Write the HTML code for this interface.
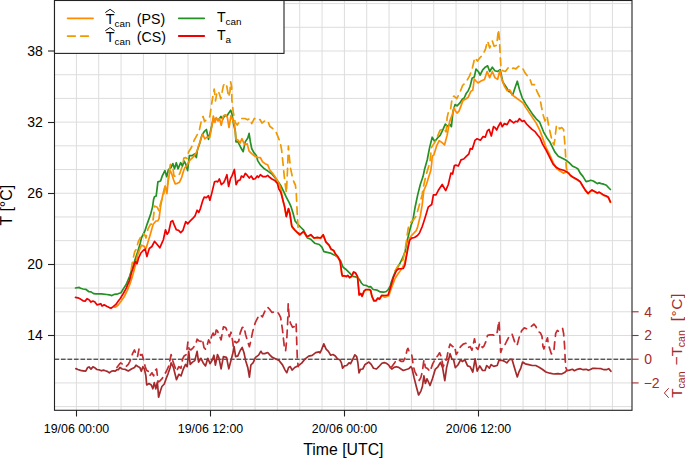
<!DOCTYPE html>
<html><head><meta charset="utf-8"><style>
html,body{margin:0;padding:0;background:#fff;}
svg{display:block;font-family:"Liberation Sans", sans-serif;}
</style></head><body>
<svg width="685" height="458" viewBox="0 0 685 458">
<path d="M76.40,0.5 V410.3 M98.73,0.5 V410.3 M121.07,0.5 V410.3 M143.40,0.5 V410.3 M165.73,0.5 V410.3 M188.07,0.5 V410.3 M210.40,0.5 V410.3 M232.73,0.5 V410.3 M255.07,0.5 V410.3 M277.40,0.5 V410.3 M299.73,0.5 V410.3 M322.07,0.5 V410.3 M344.40,0.5 V410.3 M366.73,0.5 V410.3 M389.07,0.5 V410.3 M411.40,0.5 V410.3 M433.73,0.5 V410.3 M456.07,0.5 V410.3 M478.40,0.5 V410.3 M500.73,0.5 V410.3 M523.07,0.5 V410.3 M545.40,0.5 V410.3 M567.73,0.5 V410.3 M590.07,0.5 V410.3 M612.40,0.5 V410.3 M54.5,406.62 H632.0 M54.5,382.92 H632.0 M54.5,359.21 H632.0 M54.5,335.50 H632.0 M54.5,311.79 H632.0 M54.5,288.08 H632.0 M54.5,264.38 H632.0 M54.5,240.67 H632.0 M54.5,216.96 H632.0 M54.5,193.25 H632.0 M54.5,169.54 H632.0 M54.5,145.84 H632.0 M54.5,122.13 H632.0 M54.5,98.42 H632.0 M54.5,74.71 H632.0 M54.5,51.00 H632.0 M54.5,27.30 H632.0 M54.5,3.59 H632.0" stroke="#DDDDDD" stroke-width="1" fill="none"/>
<path d="M54.5,359.21 H632.0" stroke="#1a1a1a" stroke-width="1" stroke-dasharray="4.6,1.9" fill="none"/>
<path d="M75.5,288.0 L79.2,287.3 L80.5,288.3 L83.1,289.0 L85.7,289.3 L89.0,291.7 L91.0,291.9 L93.6,293.6 L96.2,293.9 L101.4,293.9 L106.7,294.5 L109.3,294.8 L111.9,295.6 L114.5,294.3 L118.0,293.8 L121.0,292.7 L123.3,288.9 L126.3,284.3 L129.4,276.7 L132.5,267.5 L135.5,258.3 L137.8,251.5 L140.1,243.8 L141.4,238.0 L144.7,231.4 L147.3,223.6 L150.6,214.4 L152.6,206.6 L153.6,199.4 L154.5,196.8 L156.2,195.9 L157.9,181.9 L160.6,181.0 L162.3,175.8 L164.9,170.6 L166.7,176.7 L168.4,169.7 L171.0,167.6 L172.8,163.6 L174.5,168.8 L176.3,162.7 L178.0,168.8 L180.7,162.7 L182.4,166.2 L184.1,161.0 L185.9,164.5 L187.6,170.6 L189.4,155.7 L192.0,155.7 L194.6,154.0 L196.4,157.5 L197.4,150.0 L199.6,143.7 L202.0,134.9 L204.2,131.7 L206.4,129.5 L208.5,139.3 L210.4,131.5 L212.9,121.0 L215.6,118.5 L218.3,120.0 L220.9,116.4 L222.8,119.0 L224.8,115.4 L227.0,116.2 L228.6,113.2 L230.7,110.2 L232.0,114.0 L233.4,123.2 L235.3,131.0 L236.0,141.9 L238.0,141.9 L240.6,147.2 L243.2,151.7 L245.2,141.9 L247.8,138.0 L249.1,133.4 L250.4,141.9 L251.7,148.5 L253.7,152.4 L256.3,155.5 L257.8,160.9 L260.4,164.9 L264.4,168.8 L268.3,171.4 L272.3,174.4 L276.5,179.5 L278.8,182.6 L280.7,185.5 L284.0,192.1 L286.0,196.7 L289.2,202.6 L291.2,207.2 L293.2,213.7 L295.1,221.0 L298.3,224.9 L301.0,227.5 L303.6,230.1 L307.5,238.0 L310.8,239.3 L314.7,243.2 L319.3,244.5 L321.9,247.2 L323.9,251.7 L327.2,252.4 L330.4,253.1 L333.1,254.4 L335.5,255.5 L337.9,257.4 L340.5,260.7 L343.1,267.3 L345.7,269.2 L349.7,273.2 L352.9,276.4 L356.9,277.1 L359.5,279.7 L361.4,283.0 L363.4,285.0 L366.7,285.6 L368.6,286.9 L370.6,286.7 L373.2,289.5 L377.2,290.2 L380.4,291.9 L383.7,292.2 L386.3,291.5 L388.3,289.5 L390.3,286.0 L391.3,282.0 L394.2,274.3 L397.2,268.0 L399.9,263.5 L402.5,258.2 L405.1,251.7 L407.1,241.2 L409.0,233.3 L411.0,225.5 L412.9,220.2 L415.1,207.2 L417.7,194.9 L420.3,184.5 L423.0,176.6 L424.7,168.7 L427.2,160.0 L429.6,147.6 L432.2,137.2 L434.8,141.5 L437.5,138.0 L440.1,135.4 L442.7,130.2 L445.3,124.1 L447.9,126.7 L449.7,124.1 L451.4,126.7 L452.3,117.9 L453.1,111.1 L455.1,104.5 L457.0,105.9 L459.7,103.2 L462.3,99.3 L464.2,98.0 L466.2,93.4 L468.2,90.8 L470.1,86.2 L472.1,78.3 L474.3,77.0 L476.0,69.2 L478.3,71.5 L480.1,75.0 L482.7,69.8 L485.3,67.2 L487.6,65.8 L489.7,71.5 L492.3,67.2 L494.9,70.7 L497.6,71.5 L500.2,69.8 L502.8,82.0 L506.3,87.2 L508.9,91.6 L510.5,92.0 L512.6,95.2 L515.2,87.3 L517.3,81.2 L519.6,89.9 L522.2,97.8 L525.7,103.9 L529.2,109.1 L532.7,114.4 L536.2,118.8 L539.7,122.2 L543.5,131.8 L547.0,137.9 L549.6,141.4 L552.2,146.7 L554.8,151.9 L558.3,156.3 L561.8,158.0 L565.3,159.8 L568.8,162.4 L572.3,165.9 L575.5,167.4 L578.0,169.0 L580.2,173.1 L582.9,176.4 L586.1,181.6 L588.1,181.2 L590.7,180.3 L593.3,181.0 L595.3,182.3 L597.3,183.6 L599.2,182.9 L601.2,183.6 L603.8,184.2 L606.4,185.2 L608.4,187.5 L610.4,189.5" stroke="#259025" stroke-width="1.7" fill="none" stroke-linejoin="round" stroke-linecap="round"/>
<path d="M114.2,307.2 L115.1,307.2 L118.2,305.0 L121.2,301.1 L124.3,296.5 L127.3,290.4 L130.4,282.8 L132.7,275.2 L135.0,266.7 L136.5,261.4 L137.5,255.5 L139.5,250.0 L141.4,245.2 L143.9,246.1 L144.7,247.2 L146.2,248.0 L148.0,241.9 L150.0,235.4 L151.9,228.8 L153.2,224.2 L155.9,221.0 L157.8,221.0 L159.1,218.3 L160.4,207.9 L161.7,200.0 L163.6,191.5 L165.3,186.0 L166.9,193.7 L168.0,182.8 L169.1,175.1 L170.2,170.7 L171.8,174.0 L173.5,179.5 L175.1,183.8 L177.3,183.3 L179.5,182.2 L181.7,177.3 L183.3,171.8 L184.9,167.5 L186.6,166.4 L187.7,164.2 L189.3,160.9 L191.5,158.7 L193.7,156.6 L195.9,153.3 L197.5,150.0 L198.2,146.9 L200.4,140.4 L202.6,134.0 L204.8,138.8 L206.9,137.1 L209.8,137.2 L211.5,128.0 L213.3,116.0 L214.9,122.4 L216.3,117.5 L218.0,121.0 L219.5,118.5 L221.2,125.3 L223.5,115.8 L225.8,114.8 L227.3,117.2 L229.0,127.5 L231.0,115.5 L232.7,119.7 L234.6,125.3 L236.0,139.3 L238.0,140.0 L240.0,143.2 L241.9,138.6 L244.5,144.5 L247.2,143.9 L249.1,151.1 L251.7,153.7 L255.0,156.3 L257.7,157.5 L260.4,157.6 L262.4,161.6 L265.0,163.7 L267.6,164.7 L269.8,170.0 L272.6,173.2 L275.2,177.0 L277.8,181.4 L280.1,186.5 L281.4,191.4 L282.7,199.7 L284.6,207.0 L286.3,216.8 L288.5,208.9 L289.8,213.5 L291.8,226.6 L294.4,229.9 L297.0,232.5 L299.7,235.1 L303.6,231.8 L306.9,237.1 L310.8,235.1 L314.1,238.4 L317.3,237.7 L320.6,238.4 L323.2,235.1 L325.9,242.3 L329.1,245.6 L331.1,249.5 L333.7,250.8 L335.2,253.9 L337.9,257.2 L340.2,261.8 L341.8,274.2 L342.4,276.2 L344.4,276.2 L346.4,276.8 L347.7,275.8 L349.7,277.9 L351.6,276.6 L353.6,272.3 L355.5,273.2 L357.5,276.8 L358.6,288.6 L359.1,295.2 L360.8,293.9 L362.1,296.5 L364.1,291.3 L366.0,289.9 L369.3,289.9 L370.6,290.6 L371.9,296.5 L373.9,301.1 L375.9,301.1 L377.8,298.5 L379.5,299.4 L381.7,295.8 L385.0,297.2 L388.8,295.7 L391.9,286.6 L394.9,278.9 L397.2,275.0 L399.9,271.3 L402.5,267.4 L404.4,263.5 L406.4,255.6 L407.7,247.8 L409.7,237.9 L411.7,235.3 L414.3,232.7 L416.2,230.7 L417.5,227.4 L418.9,221.6 L420.3,216.0 L422.1,205.4 L423.8,190.6 L426.4,184.5 L429.1,175.7 L430.8,170.5 L431.7,163.5 L432.2,156.4 L434.0,154.6 L436.6,145.9 L439.2,140.7 L441.8,142.4 L444.5,145.0 L447.1,135.4 L449.7,121.4 L452.3,114.5 L454.1,107.5 L455.1,110.4 L457.0,113.1 L459.0,111.1 L461.0,105.9 L462.9,100.6 L465.5,99.3 L468.2,97.3 L470.8,91.4 L472.8,90.1 L474.3,79.0 L476.0,81.0 L478.0,82.9 L481.0,81.1 L484.5,79.4 L487.1,71.5 L489.7,77.6 L492.3,71.5 L494.9,77.6 L497.6,79.4 L499.8,70.7 L501.9,79.4 L504.5,86.4 L507.2,90.7 L509.8,89.9 L512.4,95.1 L516.1,97.8 L519.6,100.4 L523.1,103.0 L525.7,107.4 L529.2,112.6 L532.7,117.9 L536.2,123.1 L539.7,130.1 L542.6,137.9 L546.1,147.6 L549.6,154.5 L553.1,162.4 L556.6,168.5 L560.1,171.1 L563.6,173.2 L566.2,172.0 L568.8,172.9 L570.6,175.9 L573.2,177.6 L575.5,178.9 L577.6,180.1 L580.2,182.0 L582.9,186.6 L585.5,190.8 L588.1,193.8 L590.1,191.8 L592.0,190.3 L594.7,191.8 L597.3,193.4 L599.2,192.5 L601.2,193.8 L603.8,195.5 L606.4,196.4 L608.4,197.7 L610.4,202.3" stroke="#FF8C00" stroke-width="1.7" fill="none" stroke-linejoin="round" stroke-linecap="round"/>
<path d="M129.4,282.8 L131.7,266.0 L133.2,258.3 L134.7,251.7 L136.3,249.2 L138.2,241.9 L140.1,238.0 L142.8,233.4 L144.7,234.7 L146.0,238.0 L148.0,228.8 L150.6,224.2 L152.6,224.2 L153.9,213.1 L154.5,206.0 L157.2,207.2 L159.1,211.1 L160.4,203.9 L161.7,200.0 L163.6,196.0 L164.4,189.0 L165.3,185.0 L166.4,186.5 L167.5,185.0 L169.4,170.0 L170.4,164.4 L171.5,166.5 L172.9,168.0 L174.0,176.0 L176.2,176.5 L178.4,176.0 L180.0,173.0 L181.3,169.0 L182.8,165.3 L183.8,158.0 L185.5,157.6 L187.1,158.5 L188.6,152.0 L191.4,147.5 L194.4,139.8 L197.1,134.9 L199.5,129.5 L201.8,118.5 L203.1,116.4 L204.6,121.5 L207.0,119.0 L209.4,118.0 L210.2,114.2 L211.6,104.1 L212.9,96.2 L214.2,89.0 L215.5,100.8 L216.9,92.9 L218.2,91.0 L219.5,94.2 L220.8,98.8 L222.1,92.3 L223.4,85.7 L224.7,83.1 L226.7,85.7 L228.6,96.9 L230.0,91.6 L230.6,81.8 L231.7,87.0 L231.9,100.1 L233.2,111.9 L235.2,122.4 L237.2,125.0 L239.8,121.1 L241.7,118.5 L245.0,118.5 L247.6,119.8 L250.0,118.5 L251.7,123.6 L254.4,118.3 L257.0,120.3 L260.0,119.5 L262.0,123.1 L265.2,120.5 L267.9,121.1 L269.8,126.4 L272.4,128.3 L275.7,131.0 L278.3,137.5 L280.3,142.8 L281.6,149.9 L282.4,157.5 L283.2,165.2 L283.9,172.8 L284.7,180.4 L285.5,186.5 L286.4,193.0 L287.5,170.0 L288.4,146.0 L289.2,156.0 L290.5,168.0 L292.3,176.6 L293.9,182.0 L295.4,185.0 L296.2,192.0 L296.6,200.0 L297.3,215.0 L298.3,231.4 L299.7,235.0" stroke="#EE9A00" stroke-width="1.7" fill="none" stroke-linejoin="round" stroke-linecap="round" stroke-dasharray="7.6,5.5"/>
<path d="M395.0,271.0 L397.9,266.1 L400.5,264.1 L403.1,259.5 L405.1,249.7 L406.4,241.2 L407.1,235.3 L408.4,227.4 L411.0,222.2 L413.6,219.6 L415.6,217.0 L417.7,210.7 L420.3,201.9 L422.1,194.9 L423.0,188.8 L424.7,181.0 L426.4,174.0 L428.2,167.9 L429.9,162.6 L431.4,147.6 L434.8,142.4 L437.5,136.3 L440.1,130.2 L443.6,128.4 L446.2,131.9 L447.1,117.9 L448.8,110.1 L450.6,109.2 L452.3,97.0 L454.1,96.1 L456.7,98.7 L460.2,91.7 L462.6,85.5 L466.1,82.0 L469.6,75.9 L472.2,68.9 L474.8,57.6 L477.5,61.0 L480.1,57.6 L482.7,54.9 L485.3,49.7 L487.6,41.0 L489.7,47.9 L492.3,41.0 L494.1,46.2 L496.7,45.3 L498.4,29.6 L499.3,37.5 L500.2,54.9 L501.0,68.9 L502.8,70.7 L505.4,71.5 L508.0,68.0 L510.7,69.8 L513.3,68.0 L515.9,68.9 L518.5,66.3 L522.2,67.2 L524.8,72.5 L527.5,76.0 L530.1,79.5 L531.8,84.7 L534.5,84.7 L537.1,91.7 L539.7,96.9 L541.5,107.0 L543.3,115.5 L545.0,121.0 L547.0,116.1 L548.6,125.3 L550.4,133.5 L552.2,141.4 L554.0,144.9 L554.8,139.7 L556.4,126.0 L557.5,124.9 L559.5,128.8 L561.7,127.5 L563.6,129.5 L564.5,139.7 L565.3,150.2 L565.9,160.7 L566.3,168.0 L568.0,172.5" stroke="#EE9A00" stroke-width="1.7" fill="none" stroke-linejoin="round" stroke-linecap="round" stroke-dasharray="7.6,5.5"/>
<path d="M75.5,297.4 L77.9,297.8 L80.5,299.1 L83.1,300.8 L85.1,301.1 L87.0,298.7 L89.0,299.8 L91.0,302.1 L92.9,301.1 L94.9,302.1 L96.9,304.8 L98.8,304.4 L100.8,303.7 L102.1,306.1 L104.1,304.8 L106.7,306.3 L109.3,307.6 L111.0,308.2 L113.2,306.6 L115.9,304.4 L118.5,300.8 L120.3,298.5 L123.3,293.5 L126.3,288.1 L129.4,280.5 L131.7,272.1 L134.0,265.2 L135.5,261.4 L137.0,263.7 L138.6,258.0 L140.9,253.0 L143.2,250.5 L145.2,249.0 L146.9,256.5 L149.3,248.5 L151.9,246.5 L154.5,241.3 L157.2,244.5 L159.8,247.8 L162.4,241.9 L163.3,240.0 L165.5,229.8 L167.1,234.2 L168.7,232.0 L170.9,221.7 L172.6,220.6 L174.2,224.9 L176.4,229.8 L178.6,230.4 L180.7,232.6 L182.9,230.4 L185.7,221.7 L187.8,223.8 L190.0,221.1 L192.8,218.4 L194.9,216.2 L197.1,210.2 L198.8,212.4 L200.4,208.6 L202.6,200.9 L204.2,197.1 L206.4,197.6 L208.5,195.7 L209.9,200.3 L211.8,193.1 L214.5,181.9 L216.4,181.3 L217.7,181.9 L219.4,178.9 L221.3,184.6 L223.7,182.6 L225.2,179.3 L226.9,174.7 L228.6,186.5 L230.5,178.7 L232.2,175.4 L234.4,169.5 L236.1,184.6 L238.1,180.6 L240.1,180.0 L241.4,176.0 L243.4,177.3 L245.3,173.4 L247.3,175.4 L249.3,178.0 L251.2,176.0 L253.2,179.3 L255.2,178.7 L257.2,176.0 L258.5,177.3 L260.4,174.7 L263.1,176.7 L265.7,176.7 L267.7,175.4 L269.6,177.3 L272.3,179.3 L274.9,180.6 L277.4,183.4 L278.8,188.8 L280.7,192.1 L282.7,199.3 L284.6,206.6 L286.3,216.4 L288.5,208.5 L289.8,213.1 L291.8,226.2 L294.4,229.5 L297.0,232.1 L299.7,234.7 L303.6,231.4 L306.9,236.7 L310.8,234.7 L314.1,238.0 L317.3,237.3 L320.6,238.0 L323.2,234.7 L325.9,241.9 L329.1,245.2 L331.1,249.1 L333.7,250.4 L335.2,253.5 L337.9,256.8 L340.2,261.4 L341.8,273.8 L342.4,275.8 L344.4,275.8 L346.4,276.4 L347.7,275.4 L349.7,277.5 L351.6,276.2 L353.6,271.9 L355.5,272.8 L357.5,276.4 L358.6,288.2 L359.1,294.8 L360.8,293.5 L362.1,296.1 L364.1,290.9 L366.0,289.5 L369.3,289.5 L370.6,290.2 L371.9,296.1 L373.9,300.7 L375.9,300.7 L377.8,298.1 L379.5,299.0 L381.7,295.4 L385.0,295.5 L388.1,295.0 L390.3,288.1 L393.4,277.4 L396.5,270.5 L398.8,268.8 L403.3,268.5 L404.9,265.2 L406.4,256.5 L407.9,248.3 L409.6,240.5 L411.5,238.2 L414.5,237.5 L417.5,235.5 L419.5,233.0 L420.3,231.0 L422.1,226.8 L423.4,222.9 L425.6,215.9 L428.2,207.2 L431.7,204.5 L433.4,194.9 L436.0,194.9 L438.7,189.7 L442.2,184.5 L445.7,190.6 L448.3,184.5 L450.9,173.1 L452.6,174.0 L454.4,165.5 L455.8,165.1 L458.4,166.0 L461.0,159.9 L463.7,159.0 L466.3,156.4 L468.9,153.8 L470.3,148.6 L472.2,149.1 L473.3,145.9 L474.9,140.4 L477.1,138.8 L480.4,140.2 L483.1,136.6 L485.3,137.1 L487.5,130.6 L489.1,129.5 L491.3,136.0 L493.5,126.7 L495.1,127.8 L496.7,130.0 L498.4,126.2 L500.6,122.4 L502.2,126.7 L504.4,123.5 L507.1,124.6 L509.8,119.7 L511.5,121.3 L513.7,122.9 L515.9,121.3 L517.5,121.8 L519.4,118.7 L522.2,121.4 L524.0,120.5 L526.6,124.0 L529.2,126.6 L531.8,129.2 L535.3,131.9 L538.0,135.5 L540.0,137.9 L542.6,144.1 L546.1,150.2 L549.6,157.2 L553.1,164.1 L556.6,167.6 L560.1,169.4 L563.6,170.3 L567.1,172.0 L570.6,175.5 L573.2,177.2 L575.5,178.5 L577.6,179.7 L580.2,181.6 L582.9,186.2 L585.5,190.4 L588.1,193.4 L590.1,191.4 L592.0,189.9 L594.7,191.4 L597.3,193.0 L599.2,192.1 L601.2,193.4 L603.8,195.1 L606.4,196.0 L608.4,197.3 L610.4,201.9" stroke="#F20000" stroke-width="1.7" fill="none" stroke-linejoin="round" stroke-linecap="round"/>
<path d="M75.9,368.6 L77.9,369.5 L80.5,370.4 L83.1,370.8 L85.7,371.2 L87.7,367.5 L89.0,366.9 L91.0,369.1 L92.9,366.9 L94.9,367.8 L96.9,369.5 L99.5,369.9 L101.4,370.8 L103.4,370.1 L105.4,370.8 L107.3,371.4 L109.3,372.8 L111.3,371.4 L113.2,370.8 L115.2,371.2 L117.2,369.5 L118.4,369.7 L119.9,367.4 L122.2,369.0 L125.3,369.4 L128.3,371.0 L131.4,369.0 L134.5,367.4 L136.0,365.2 L138.3,366.7 L139.8,367.4 L141.3,371.3 L142.9,366.7 L144.4,369.0 L145.9,375.9 L146.7,385.0 L149.0,383.5 L151.3,385.0 L152.8,388.8 L154.3,382.7 L155.8,388.8 L157.4,382.0 L158.6,397.2 L160.4,391.1 L161.9,386.5 L164.3,384.0 L166.0,379.0 L168.1,373.6 L170.0,368.0 L171.1,362.9 L173.4,367.4 L176.5,379.7 L178.8,374.3 L181.0,375.9 L183.3,369.0 L185.6,364.4 L187.2,366.7 L188.7,351.4 L190.2,364.4 L192.5,362.1 L194.8,360.6 L197.1,351.4 L198.6,362.1 L200.9,358.3 L203.2,362.9 L205.5,365.9 L207.8,358.3 L210.1,363.6 L212.4,359.8 L213.9,355.2 L215.4,365.2 L217.5,354.5 L218.8,357.4 L221.1,368.8 L223.4,356.6 L226.5,357.4 L228.8,368.8 L231.0,360.4 L232.6,354.3 L234.1,346.7 L235.6,356.6 L237.9,355.9 L240.2,350.5 L242.2,347.4 L244.0,352.8 L245.6,360.4 L247.9,368.1 L249.4,377.2 L250.9,365.0 L253.2,362.7 L255.5,357.4 L258.6,355.1 L260.9,351.3 L262.4,353.6 L264.7,353.6 L267.7,352.5 L270.0,355.1 L272.3,357.4 L275.5,358.8 L279.0,360.5 L282.5,364.9 L285.1,370.1 L286.8,372.7 L288.6,367.5 L290.3,366.6 L292.1,370.1 L294.7,367.5 L298.2,365.7 L301.7,363.1 L305.2,358.8 L308.7,356.1 L312.2,355.3 L315.7,352.6 L319.1,351.8 L320.0,352.9 L321.5,349.9 L323.8,343.8 L326.1,349.1 L328.4,351.4 L330.7,355.2 L333.0,354.5 L335.3,356.0 L337.6,359.0 L339.9,359.8 L341.4,362.9 L342.6,368.2 L344.5,365.9 L346.7,365.5 L349.0,362.9 L350.6,363.6 L352.9,359.0 L354.8,354.8 L356.7,356.7 L357.9,362.9 L359.0,372.8 L360.5,369.4 L362.8,369.0 L365.1,364.4 L368.9,362.1 L371.2,364.4 L373.5,368.2 L376.5,369.0 L378.8,366.7 L381.9,363.3 L384.2,362.6 L386.5,363.3 L388.8,365.2 L390.3,367.4 L391.8,369.0 L394.1,367.4 L396.4,366.7 L398.7,367.4 L401.0,369.0 L403.3,370.5 L405.6,369.7 L407.9,369.0 L409.4,368.2 L410.9,366.7 L412.0,368.2 L414.0,377.4 L416.3,386.5 L418.6,395.0 L420.9,391.1 L422.4,386.5 L423.9,375.9 L425.4,383.5 L427.0,378.9 L428.5,382.0 L430.0,385.5 L432.5,378.5 L435.2,369.4 L437.9,366.8 L440.5,362.4 L442.6,367.6 L444.8,380.7 L446.6,367.6 L448.3,360.7 L450.1,353.7 L451.8,358.9 L453.6,359.8 L455.3,367.6 L457.9,365.0 L460.6,359.8 L462.3,361.5 L464.9,359.8 L467.6,365.9 L470.2,366.8 L472.8,372.0 L475.1,358.9 L477.2,371.1 L479.8,365.9 L482.4,370.3 L485.0,370.5 L486.7,365.5 L489.4,368.1 L491.1,364.6 L493.7,366.4 L497.2,365.5 L499.0,360.3 L501.6,360.3 L504.2,361.1 L506.8,362.9 L509.5,359.4 L512.1,359.4 L513.8,365.5 L515.6,371.6 L517.3,376.9 L519.1,371.6 L520.8,368.1 L522.6,362.0 L525.2,363.8 L528.7,364.6 L532.2,365.5 L535.7,365.5 L539.1,367.2 L542.6,369.5 L545.9,372.0 L549.8,373.2 L553.8,374.0 L557.7,373.6 L561.6,374.0 L564.6,372.6 L566.5,370.7 L569.5,370.1 L572.4,369.3 L574.4,370.7 L577.3,369.3 L580.3,368.7 L583.2,369.7 L586.2,369.3 L588.4,370.3 L590.4,369.5 L592.3,368.4 L594.9,368.4 L598.0,368.5 L601.1,368.7 L604.1,369.7 L606.4,369.7 L608.7,368.7 L610.2,370.3 L610.9,371.3" stroke="#A42A2C" stroke-width="1.7" fill="none" stroke-linejoin="round" stroke-linecap="round"/>
<path d="M116.9,367.4 L119.2,364.4 L120.7,362.9 L123.8,365.2 L126.0,366.7 L128.3,364.4 L129.9,361.3 L131.4,356.7 L132.9,352.9 L134.5,349.9 L136.0,354.5 L137.5,356.7 L139.0,349.1 L140.6,355.2 L142.1,354.5 L143.6,359.8 L145.2,366.7 L146.7,370.5 L148.2,371.3 L149.7,375.9 L152.0,372.8 L153.6,375.9 L155.1,370.5 L156.6,369.0 L158.1,382.0 L159.7,381.2 L161.9,378.9 L164.3,375.0 L166.5,371.0 L168.8,366.0 L171.1,354.5 L173.4,362.9 L176.5,371.3 L178.8,366.7 L181.0,368.2 L182.6,359.0 L184.1,356.0 L186.4,354.5 L187.9,342.2 L189.1,349.1 L191.0,349.9 L193.3,347.6 L195.6,344.5 L197.1,339.2 L198.6,340.7 L200.9,341.5 L202.4,339.2 L204.0,347.6 L205.5,349.1 L207.0,346.0 L208.6,339.9 L210.1,343.0 L211.6,336.1 L213.1,333.1 L214.7,337.6 L216.2,330.0 L217.5,331.0 L218.8,334.5 L221.1,339.8 L223.4,326.8 L225.7,327.6 L228.0,332.9 L229.5,336.7 L231.0,332.2 L232.6,340.6 L233.3,346.7 L234.9,341.3 L236.4,342.9 L238.7,341.3 L240.2,332.9 L242.2,327.6 L244.0,326.8 L245.6,334.5 L247.4,340.6 L249.4,346.7 L250.9,340.6 L252.4,332.9 L253.9,326.8 L255.5,322.2 L257.8,317.6 L260.1,314.6 L262.4,316.9 L265.2,310.5 L267.6,307.2 L269.4,309.0 L272.0,312.5 L274.6,311.9 L277.2,311.6 L279.0,314.2 L280.7,317.7 L282.5,329.9 L284.2,345.7 L285.6,350.9 L286.8,338.7 L287.7,321.2 L288.2,303.7 L289.1,316.0 L290.3,322.9 L292.6,327.3 L294.7,326.4 L296.1,322.9 L296.8,343.9 L297.3,357.9 L298.2,366.6" stroke="#C42C32" stroke-width="1.7" fill="none" stroke-linejoin="round" stroke-linecap="round" stroke-dasharray="7.6,5.5"/>
<path d="M390.3,367.4 L391.8,366.7 L394.1,363.6 L396.4,359.8 L398.7,359.8 L401.0,361.3 L403.3,361.3 L405.6,356.7 L407.1,349.9 L407.9,348.3 L409.4,352.2 L411.7,354.5 L413.2,365.2 L414.7,371.3 L417.0,375.9 L419.3,380.4 L420.9,377.4 L422.4,371.3 L423.9,359.8 L425.4,367.4 L427.0,368.2 L428.5,369.7 L430.0,371.5 L432.6,364.1 L435.2,358.9 L437.9,355.4 L439.6,352.8 L441.4,357.2 L443.1,366.8 L444.8,363.3 L446.6,358.9 L448.3,350.2 L450.1,344.1 L452.7,346.7 L454.5,345.8 L456.2,354.5 L457.9,351.9 L460.6,346.7 L463.2,344.1 L465.8,343.2 L467.6,347.6 L470.2,346.7 L471.9,350.2 L474.5,338.8 L476.3,347.6 L478.0,349.3 L479.8,343.2 L482.4,347.6 L484.1,345.8 L485.9,341.4 L487.6,335.3 L490.0,334.9 L492.9,334.9 L495.5,335.8 L497.2,332.3 L498.1,326.2 L499.0,321.0 L499.8,334.9 L500.7,352.4 L502.5,347.2 L505.1,344.5 L506.8,341.0 L509.5,335.8 L512.1,334.1 L514.7,341.9 L516.4,345.4 L517.3,344.5 L519.1,337.6 L521.7,330.6 L524.3,327.9 L526.9,328.8 L530.4,327.1 L533.9,324.1 L535.7,326.2 L538.3,331.4 L540.5,333.0 L542.0,336.3 L542.9,346.1 L543.9,349.0 L545.9,342.2 L547.5,337.8 L548.3,344.1 L549.8,349.0 L551.4,354.0 L553.8,352.0 L554.7,342.2 L555.7,333.3 L557.3,330.4 L558.7,331.4 L560.6,329.4 L562.6,328.4 L563.6,333.3 L564.6,346.1 L565.2,359.8 L565.9,367.7 L567.0,370.5" stroke="#C42C32" stroke-width="1.7" fill="none" stroke-linejoin="round" stroke-linecap="round" stroke-dasharray="7.6,5.5"/>
<rect x="54.5" y="0.5" width="577.5" height="409.8" fill="none" stroke="#222" stroke-width="1.1"/>
<path d="M48.0,335.50 H54.5" stroke="#222" stroke-width="1.1"/>
<text x="42.8" y="340.35" text-anchor="end" font-size="14">14</text>
<path d="M48.0,264.50 H54.5" stroke="#222" stroke-width="1.1"/>
<text x="42.8" y="269.35" text-anchor="end" font-size="14">20</text>
<path d="M48.0,193.50 H54.5" stroke="#222" stroke-width="1.1"/>
<text x="42.8" y="198.35" text-anchor="end" font-size="14">26</text>
<path d="M48.0,122.50 H54.5" stroke="#222" stroke-width="1.1"/>
<text x="42.8" y="127.35" text-anchor="end" font-size="14">32</text>
<path d="M48.0,51.00 H54.5" stroke="#222" stroke-width="1.1"/>
<text x="42.8" y="55.85" text-anchor="end" font-size="14">38</text>
<path d="M76.50,410.3 V416.5" stroke="#222" stroke-width="1.1"/>
<text x="76.50" y="432.6" text-anchor="middle" font-size="12.4">19/06 00:00</text>
<path d="M210.50,410.3 V416.5" stroke="#222" stroke-width="1.1"/>
<text x="210.50" y="432.6" text-anchor="middle" font-size="12.4">19/06 12:00</text>
<path d="M344.50,410.3 V416.5" stroke="#222" stroke-width="1.1"/>
<text x="344.50" y="432.6" text-anchor="middle" font-size="12.4">20/06 00:00</text>
<path d="M478.50,410.3 V416.5" stroke="#222" stroke-width="1.1"/>
<text x="478.50" y="432.6" text-anchor="middle" font-size="12.4">20/06 12:00</text>
<path d="M632.0,382.92 H638.6" stroke="#A52A2A" stroke-width="1.1"/>
<text x="659.6" y="387.77" text-anchor="end" font-size="14" fill="#A52A2A">−2</text>
<path d="M632.0,359.21 H638.6" stroke="#A52A2A" stroke-width="1.1"/>
<text x="644.25" y="364.06" font-size="14" fill="#A52A2A">0</text>
<path d="M632.0,335.50 H638.6" stroke="#A52A2A" stroke-width="1.1"/>
<text x="644.25" y="340.35" font-size="14" fill="#A52A2A">2</text>
<path d="M632.0,311.79 H638.6" stroke="#A52A2A" stroke-width="1.1"/>
<text x="644.25" y="316.64" font-size="14" fill="#A52A2A">4</text>
<text x="303.3" y="454.6" font-size="15.8">Time [UTC]</text>
<text transform="translate(11.5,225.4) rotate(-90)" font-size="15.9">T [°C]</text>
<g transform="translate(681.8,398) rotate(-90)" fill="#A52A2A" font-size="15.5"><text x="0.15" y="0">T</text><path d="M0.2,-13.1 L5,-17.4 L9.8,-13.1" stroke="#A52A2A" stroke-width="1" fill="none"/><text x="9.55" y="3.3" font-size="10.5">can</text><text x="32.4" y="0">−</text><text x="41.65" y="0">T</text><text x="50.85" y="3.3" font-size="10.5">can</text><text x="76.8" y="0" textLength="27.5" lengthAdjust="spacing">[°C]</text></g>
<rect x="54.5" y="0.5" width="229.5" height="52.9" fill="#fff" stroke="#222" stroke-width="1.1"/>
<path d="M67.6,18.3 H93.0" stroke="#FF8C00" stroke-width="1.8" stroke-linecap="round"/>
<path d="M67.6,36.1 H88.4" stroke="#EE9A00" stroke-width="1.8" stroke-linecap="round" stroke-dasharray="7.6,5.5"/>
<path d="M178.8,18.3 H204.2" stroke="#259025" stroke-width="1.8" stroke-linecap="round"/>
<path d="M178.8,36.0 H204.2" stroke="#F20000" stroke-width="1.8" stroke-linecap="round"/>
<text x="105.8" y="23.9" font-size="14.2">T</text><path d="M105.27,12.599999999999998 L110.07,9.299999999999999 L114.66999999999999,12.599999999999998" stroke="#000" stroke-width="0.95" fill="none"/>
<text x="114.5" y="27.0" font-size="9.9">can</text>
<text x="136.8" y="23.9" font-size="14.2">(PS)</text>
<text x="105.8" y="42.1" font-size="14.2">T</text><path d="M105.27,30.8 L110.07,27.5 L114.66999999999999,30.8" stroke="#000" stroke-width="0.95" fill="none"/>
<text x="114.5" y="45.0" font-size="9.9">can</text>
<text x="136.8" y="42.1" font-size="14.2">(CS)</text>
<text x="217.1" y="21.8" font-size="14.2">T</text>
<text x="225.5" y="24.6" font-size="9.9">can</text>
<text x="217.1" y="39.7" font-size="14.2">T</text>
<text x="225.5" y="42.6" font-size="9.9">a</text>
</svg>
</body></html>
